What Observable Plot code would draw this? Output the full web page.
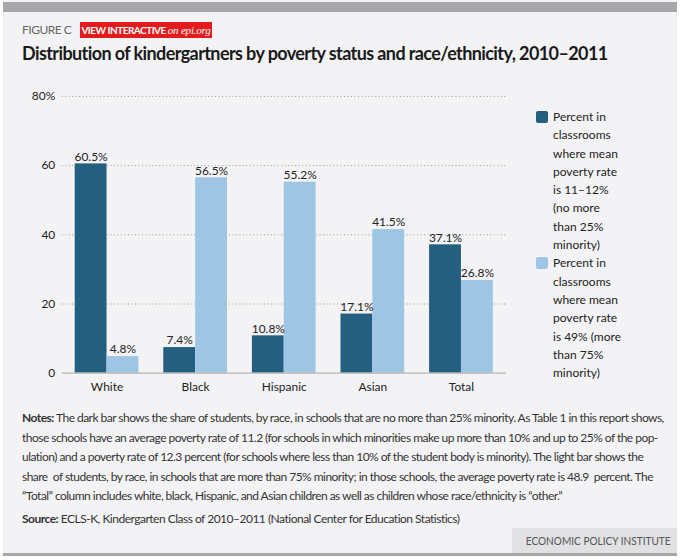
<!DOCTYPE html>
<html>
<head>
<meta charset="utf-8">
<script src="https://cdn.jsdelivr.net/npm/d3@7"></script>
<script src="https://cdn.jsdelivr.net/npm/@observablehq/plot@0.6"></script>
<style>
  html, body { margin: 0; padding: 0; background: #ffffff; }
  #page { position: relative; width: 674px; height: 556px; margin-left: 3px; background: #f3f3f5; font-family: Lato, "Open Sans", sans-serif; color: #222; overflow: hidden; }
  #topbar { position: absolute; left: 0; top: 2px; width: 674px; height: 10px; background: #a7a7a9; }
  #figlabel { position: absolute; left: 19px; top: 22px; font-size: 12px; color: #666; letter-spacing: -0.5px; }
  #interactive { position: absolute; left: 77px; top: 22px; height: 16px; width: 132px; background: #e31b1b; color: #fff; font-size: 10px; font-weight: 700; line-height: 16px; letter-spacing: -0.5px; text-align: center; white-space: nowrap; }
  #interactive i { font-family: "Liberation Serif", serif; font-weight: 400; font-size: 11px; letter-spacing: -0.2px; }
  #title { position: absolute; left: 19px; top: 42px; font-size: 18px; font-weight: 700; white-space: nowrap; color: #1a1a1a; letter-spacing: -0.6px; }
  #chart { position: absolute; left: -3px; top: 80px; }
  #legend { position: absolute; left: 530px; top: 108px; width: 140px; font-size: 12px; line-height: 18.3px; color: #222; }
  .item { position: relative; padding-left: 20px; }
  .sw { position: absolute; left: 3px; top: 3px; width: 12px; height: 12px; border-radius: 2px; }
  #notes { position: absolute; left: 19px; top: 408px; font-size: 12px; line-height: 19.5px; white-space: nowrap; color: #333; letter-spacing: -0.53px; }
  #source { position: absolute; left: 19px; top: 511px; font-size: 12px; white-space: nowrap; color: #333; letter-spacing: -0.5px; }
  #epi { position: absolute; left: 509px; top: 528px; width: 165px; height: 25px; background: #e1e1e4; color: #555; font-size: 12px; line-height: 25px; text-align: center; white-space: nowrap; }
  #epi span { display: inline-block; transform: scaleX(0.84); letter-spacing: 0px; }
  #bottombar { position: absolute; left: 0; top: 553px; width: 674px; height: 4px; background: #a7a7a9; }
</style>
</head>
<body>
<div id="page">
  <div id="topbar"></div>
  <div id="figlabel">FIGURE C</div>
  <div id="interactive">VIEW INTERACTIVE <i>on epi.org</i></div>
  <div id="title">Distribution of kindergartners by poverty status and race/ethnicity, 2010–2011</div>
  <div id="chart"></div>
  <div id="legend"></div>
  <div id="notes"><b>Notes:</b> The dark bar shows the share of students, by race, in schools that are no more than 25% minority. As Table 1 in this report shows,<br>those schools have an average poverty rate of 11.2 (for schools in which minorities make up more than 10% and up to 25% of the pop-<br>ulation) and a poverty rate of 12.3 percent (for schools where less than 10% of the student body is minority). The light bar shows the<br>share&nbsp; of students, by race, in schools that are more than 75% minority; in those schools, the average poverty rate is 48.9&nbsp; percent. The<br>“Total” column includes white, black, Hispanic, and Asian children as well as children whose race/ethnicity is “other.”</div>
  <div id="source"><b>Source:</b> ECLS-K, Kindergarten Class of 2010–2011 (National Center for Education Statistics)</div>
  <div id="epi"><span>ECONOMIC POLICY INSTITUTE</span></div>
  <div id="bottombar"></div>
</div>
<script>
const categories = ["White", "Black", "Hispanic", "Asian", "Total"];
const lowPovertyShare = [60.5, 7.4, 10.8, 17.1, 37.1];
const highPovertyShare = [4.8, 56.5, 55.2, 41.5, 26.8];
const seriesNames = [
  "Percent in classrooms where mean poverty rate is 11–12% (no more than 25% minority)",
  "Percent in classrooms where mean poverty rate is 49% (more than 75% minority)"
];
const seriesColors = ["#255f7f", "#9fc5e5"];
const yTicks = [0, 20, 40, 60, 80];

const data = categories.flatMap((c, i) => [
  {category: c, series: seriesNames[0], value: lowPovertyShare[i]},
  {category: c, series: seriesNames[1], value: highPovertyShare[i]}
]);
const low = data.filter(d => d.series === seriesNames[0]);
const high = data.filter(d => d.series === seriesNames[1]);

const half = 32;
const chart = Plot.plot({
  width: 680,
  height: 324,
  marginLeft: 62,
  marginRight: 172,
  marginTop: 16,
  marginBottom: 30,
  style: {background: "transparent", fontFamily: "Lato, 'Open Sans', sans-serif", fontSize: "12px", color: "#222"},
  x: {domain: categories, paddingInner: 0.28, paddingOuter: 0.14, label: null, tickSize: 0, tickPadding: 9},
  y: {domain: [0, 80], ticks: yTicks, label: null, tickSize: 0, tickPadding: 7,
      tickFormat: d => d === 80 ? "80%" : String(d)},
  color: {domain: seriesNames, range: seriesColors},
  marks: [
    Plot.ruleY(yTicks.filter(d => d > 0), {stroke: "#9a9a9a", strokeWidth: 1, strokeDasharray: "1,2.5"}),
    Plot.barY(low, {x: "category", y: "value", fill: "series", insetRight: half}),
    Plot.barY(high, {x: "category", y: "value", fill: "series", insetLeft: half}),
    Plot.ruleY([0], {stroke: "#b5b5b5", strokeWidth: 1.2}),
    Plot.text(low, {x: "category", y: "value", text: d => d.value.toFixed(1) + "%", dx: -half / 2, dy: -7, fill: "#222", fontSize: 12}),
    Plot.text(high, {x: "category", y: "value", text: d => d.value.toFixed(1) + "%", dx: half / 2, dy: -7, fill: "#222", fontSize: 12})
  ]
});
document.getElementById("chart").appendChild(chart);

const legendLines = [
  ["Percent in", "classrooms", "where mean", "poverty rate", "is 11–12%", "(no more", "than 25%", "minority)"],
  ["Percent in", "classrooms", "where mean", "poverty rate", "is 49% (more", "than 75%", "minority)"]
];
const legend = document.getElementById("legend");
seriesNames.forEach((s, i) => {
  const item = document.createElement("div");
  item.className = "item";
  item.title = s;
  const sw = document.createElement("div");
  sw.className = "sw";
  sw.style.background = seriesColors[i];
  item.appendChild(sw);
  const txt = document.createElement("div");
  txt.innerHTML = legendLines[i].join("<br>");
  item.appendChild(txt);
  legend.appendChild(item);
});
</script>
</body>
</html>
